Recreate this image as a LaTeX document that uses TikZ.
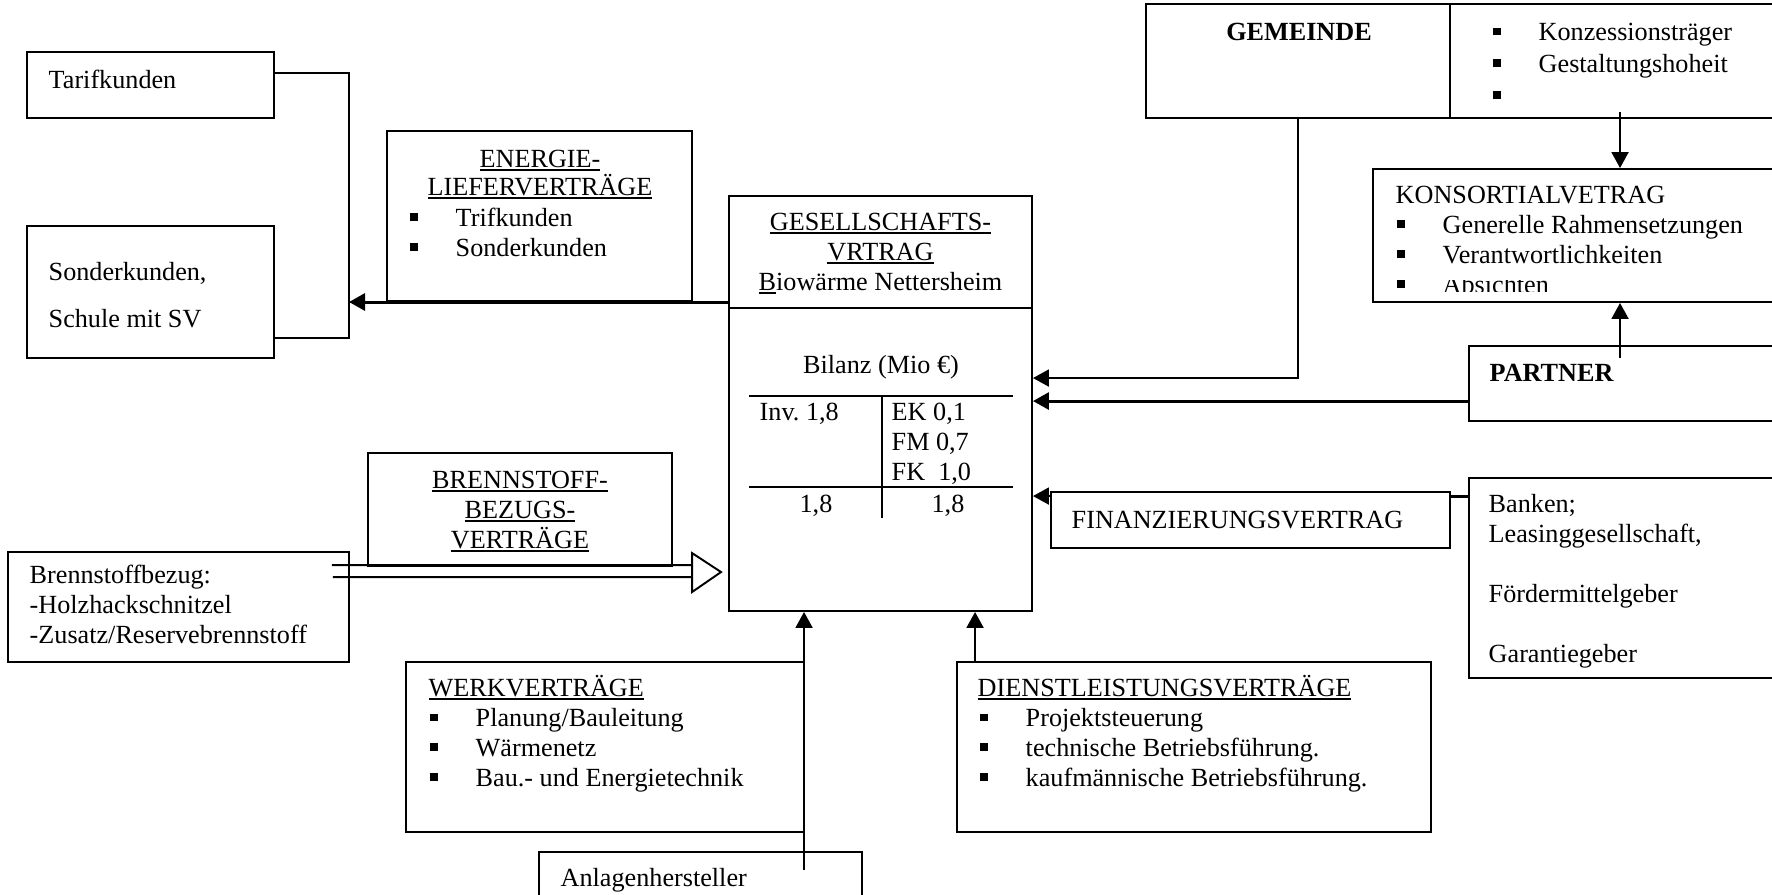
\documentclass[tikz,border=0pt]{standalone}
\usepackage{fontspec}
\setmainfont{Liberation Serif}
\frenchspacing
\usetikzlibrary{arrows.meta,calc,fit}
\tikzset{>={Triangle[length=1.6mm,width=1.7mm]}}
\tikzset{
  kasten/.style={draw, line width=0.55pt, inner sep=0pt},
  schrift/.style={font=\fontsize{7.45}{8.5}\selectfont, inner sep=0pt, anchor=base west, align=left},
  mitte/.style={schrift, anchor=base, align=center},
  fett/.style={schrift, font=\fontsize{7.45}{8.5}\selectfont\bfseries},
  pfeil/.style={->, line width=0.6pt},
  dick/.style={line width=0.85pt}
}
\newcommand\ustrich[1]{\setbox0=\hbox{#1}\rlap{\rule[-1.1pt]{\wd0}{0.55pt}}\box0}
\newcommand\punkt{\makebox[4.6mm][l]{\rule[0.52mm]{0.8mm}{0.75mm}}}

\begin{document}
\begin{tikzpicture}[x=0.1mm,y=-0.1mm]
  \useasboundingbox (0,0) rectangle (1772,894);
  \clip (0,0) rectangle (1772,894);
  \pgfmathsetmacro{\yenergie}{302};
  \pgfmathsetmacro{\xklammer}{349};
  \pgfmathsetmacro{\ykopf}{308};
  \node[kasten, fit={(27,52) (274,118)}] (tarif) {};
  \node[kasten, fit={(27,226) (274,358)}] (sonder) {};
  \node[kasten, fit={(387,131) (692,301)}] (energie) {};
  \node[kasten, fit={(729,196) (1032,611)}] (gesell) {};
  \node[kasten, fit={(1146,4) (1450,118)}] (gemeinde) {};
  \node[kasten, fit={(1450,4) (1790,118)}] (aufgaben) {};
  \node[kasten, fit={(1373,169) (1790,302)}] (konsort) {};
  \node[kasten, fit={(1469,346) (1790,421)}] (partner) {};
  \node[kasten, fit={(1051,492) (1450,548)}] (finanz) {};
  \node[kasten, fit={(1469,478) (1790,678)}] (banken) {};
  \node[kasten, fit={(368,453) (672,566)}] (brenn) {};
  \node[kasten, fit={(8,552) (349,662)}] (bezug) {};
  \node[kasten, fit={(406,662) (804,832)}] (werk) {};
  \node[kasten, fit={(957,662) (1431,832)}] (dienst) {};
  \node[kasten, fit={(539,852) (862,910)}] (anlagen) {};
  \coordinate (klammer) at (\xklammer,\yenergie);
  \draw[line width=0.55pt] ($(tarif.north east)+(0,22)$) -| (klammer) |- ($(sonder.north east)+(0,113)$);
  \draw[pfeil,dick] (gesell.west |- klammer) -- (klammer);
  \draw[pfeil] (gemeinde.south) |- ($(gesell.north east)+(0,183)$);
  \draw[pfeil] ($(aufgaben.south)+(0,-7)$) -- (konsort.north -| aufgaben.south);
  \draw[pfeil] ($(partner.north -| aufgaben.south)+(0,13)$) -- (konsort.south -| aufgaben.south);
  \draw[pfeil,dick] ($(partner.north west)+(0,56)$) coordinate (p0) -- (gesell.east |- p0);
  \draw[pfeil] ($(finanz.north west)+(0,5)$) coordinate (f0) -- (gesell.east |- f0);
  \draw[dick] ($(banken.north west)+(0,19)$) coordinate (b0) -- (finanz.east |- b0);
  \draw[pfeil] ($(anlagen.north west)+(266,19)$) coordinate (a0) -- (gesell.south -| a0);
  \draw[pfeil] ($(dienst.north west)+(19,0)$) coordinate (d0) -- (gesell.south -| d0);
  \draw[line width=0.55pt] ($(bezug.north east)+(-18,14)$) -- ($(gesell.north west)+(-36,370)$);
  \draw[line width=0.55pt] ($(bezug.north east)+(-17,26)$) -- ($(gesell.north west)+(-36,382)$);
  \draw[line width=0.55pt, fill=white] ($(gesell.north west)+(-36,358)$) -- ($(gesell.north west)+(-7,377)$) -- ($(gesell.north west)+(-36,397)$) -- cycle;
  \draw[line width=0.55pt] (gesell.west |- 0,\ykopf) -- (gesell.east |- 0,\ykopf);
  \draw[line width=0.7pt] (749,396) -- (1013,396) (749,487) -- (1013,487);
  \draw[line width=0.55pt] (882,396) -- (882,518);
  \node[schrift] (tarif-t) at (48,88) {Tarifkunden};
  \node[schrift] (sonder-t) at (48,327) {Sonderkunden,\\[1.7mm]Schule mit SV};
  \node[mitte] (energie-t) at (540,195) {\ustrich{ENERGIE-}\\[-0.2mm]\ustrich{LIEFERVERTRÄGE}};
  \node[schrift] (energie-l) at (409,256) {\punkt Trifkunden\\\punkt Sonderkunden};
  \node[mitte] (gesell-t) at (880.5,290) {\ustrich{GESELLSCHAFTS-}\\\ustrich{VRTRAG}\\\ustrich{B}iowärme Nettersheim};
  \node[mitte] (bilanz) at (881,373) {Bilanz (Mio €)};
  \node[schrift] (inv) at (759,420) {Inv. 1,8};
  \node[schrift] (passiva) at (891,480) {EK 0,1\\FM 0,7\\FK\ \ 1,0};
  \node[mitte] (summe-a) at (816,512) {1,8};
  \node[mitte] (summe-p) at (948,512) {1,8};
  \node[fett, anchor=base] (gemeinde-t) at (1299,41) {GEMEINDE};
  \node[schrift] (aufgaben-l) at (1492,104) {\punkt Konzessionsträger\\[0.2mm]\punkt Gestaltungshoheit\\[0.2mm]\punkt};
  \node[schrift] (konsort-t) at (1395,203) {KONSORTIALVETRAG};
  \node[schrift] (konsort-l) at (1396,263) {\punkt Generelle Rahmensetzungen\\\punkt Verantwortlichkeiten};
  \begin{scope}
    \clip (1380,280) rectangle (1772,291);
    \node[schrift] (konsort-x) at (1396,293) {\punkt Absichten};
  \end{scope}
  \node[fett] (partner-t) at (1489,381) {PARTNER};
  \node[schrift] (finanz-t) at (1071,528) {FINANZIERUNGSVERTRAG};
  \node[schrift] (banken-l) at (1488,662) {Banken;\\Leasinggesellschaft,\\[3mm]Fördermittelgeber\\[3mm]Garantiegeber};
  \node[mitte] (brenn-t) at (520,548) {\ustrich{BRENNSTOFF-}\\\ustrich{BEZUGS-}\\\ustrich{VERTRÄGE}};
  \node[schrift] (bezug-t) at (29,643) {Brennstoffbezug:\\-Holzhackschnitzel\\-Zusatz/Reservebrennstoff};
  \node[schrift] (werk-t) at (428,696) {\ustrich{WERKVERTRÄGE}};
  \node[schrift] (werk-l) at (429,786) {\punkt Planung/Bauleitung\\\punkt Wärmenetz\\\punkt Bau.- und Energietechnik};
  \node[schrift] (dienst-t) at (977,696) {\ustrich{DIENSTLEISTUNGSVERTRÄGE}};
  \node[schrift] (dienst-l) at (979,786) {\punkt Projektsteuerung\\\punkt technische Betriebsführung.\\\punkt kaufmännische Betriebsführung.};
  \node[schrift] (anlagen-t) at (560,886) {Anlagenhersteller};
\end{tikzpicture}
\end{document}
